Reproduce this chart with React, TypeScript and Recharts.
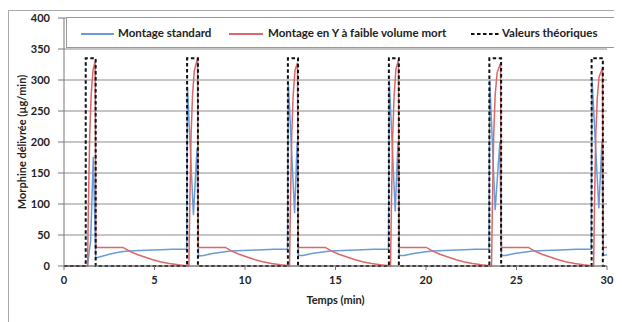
import { LineChart, Line, XAxis, YAxis, CartesianGrid, Legend } from "recharts";

// [time (min), morphine (µg/min)]
const standard: [number, number][] = [
  [0, 0], [1.3, 0], [1.4, 25], [1.47, 40], [1.62, 176], [1.75, 13], [2.0, 15], [2.5, 19], [3.0, 22], [3.5, 24], [4.2, 25], [5.0, 26], [6.0, 27], [6.78, 27],
  [6.82, 289], [7.15, 82], [7.35, 190], [7.43, 16], [7.7, 17], [8.2, 20], [8.7, 22], [9.2, 24], [9.9, 25], [10.7, 26], [11.6, 27], [12.35, 27],
  [12.39, 297], [12.74, 85], [12.88, 200], [12.95, 17], [13.2, 17], [13.7, 20], [14.2, 22], [14.7, 24], [15.4, 25], [16.2, 26], [17.1, 27], [17.93, 27],
  [17.97, 300], [18.3, 88], [18.45, 200], [18.52, 17], [18.8, 17], [19.3, 20], [19.8, 22], [20.3, 24], [21.0, 25], [21.8, 26], [22.7, 27], [23.48, 27],
  [23.52, 300], [23.82, 90], [24.08, 200], [24.17, 17], [24.4, 17], [24.9, 20], [25.4, 22], [25.9, 24], [26.6, 25], [27.4, 26], [28.3, 27], [29.13, 27],
  [29.17, 303], [29.55, 93], [29.72, 200], [29.8, 17], [30, 18],
];

const lowDeadVolume: [number, number][] = [
  [0, 0], [1.3, 0], [1.35, 100], [1.42, 210], [1.5, 275], [1.6, 315], [1.72, 330], [1.76, 30],
  [3.26, 30], [3.61, 24], [4.01, 19], [4.41, 15], [4.91, 10], [5.31, 7], [5.81, 4], [6.31, 2], [6.76, 0.5],
  [6.9, 0], [6.95, 100], [7.02, 210], [7.1, 275], [7.2, 315], [7.38, 335], [7.42, 30],
  [8.92, 30], [9.27, 24], [9.67, 19], [10.07, 15], [10.57, 10], [10.97, 7], [11.47, 4], [11.97, 2], [12.42, 0.5],
  [12.46, 0], [12.51, 100], [12.58, 210], [12.66, 275], [12.76, 315], [12.9, 328], [12.94, 30],
  [14.44, 30], [14.79, 24], [15.19, 19], [15.59, 15], [16.09, 10], [16.49, 7], [16.99, 4], [17.49, 2], [17.94, 0.5],
  [18.04, 0], [18.09, 100], [18.16, 210], [18.24, 275], [18.34, 318], [18.48, 332], [18.52, 30],
  [20.02, 30], [20.37, 24], [20.77, 19], [21.17, 15], [21.67, 10], [22.07, 7], [22.57, 4], [23.07, 2], [23.52, 0.5],
  [23.62, 0], [23.67, 100], [23.74, 210], [23.82, 275], [23.93, 312], [24.12, 327], [24.16, 30],
  [25.66, 30], [26.01, 24], [26.41, 19], [26.81, 15], [27.31, 10], [27.71, 7], [28.21, 4], [28.71, 2], [29.16, 0.5],
  [29.26, 0], [29.31, 100], [29.38, 210], [29.46, 270], [29.56, 305], [29.75, 319], [29.79, 30], [30, 30],
];

const theoretical: [number, number][] = [
  [0, 0], [1.2, 0], [1.2, 335], [1.75, 335], [1.75, 0],
  [6.8, 0], [6.8, 335], [7.4, 335], [7.4, 0],
  [12.37, 0], [12.37, 335], [12.93, 335], [12.93, 0],
  [17.95, 0], [17.95, 335], [18.5, 335], [18.5, 0],
  [23.5, 0], [23.5, 335], [24.15, 335], [24.15, 0],
  [29.15, 0], [29.15, 335], [29.77, 335], [29.77, 0], [30, 0],
];

const xTicks = [0, 5, 10, 15, 20, 25, 30];
const yTicks = [0, 50, 100, 150, 200, 250, 300, 350, 400];

const BLUE = "#6b9bd6";
const RED = "#d8686a";
const FONT = "Lato, 'Open Sans', sans-serif";

const toRows = (pts: [number, number][]) => pts.map(([t, v]) => ({ t, v }));

function LegendBox() {
  const text = { position: "absolute" as const, top: 8, fontSize: 11.5, fontWeight: 700, color: "#222", whiteSpace: "nowrap" as const, lineHeight: "14px" };
  const sample = (left: number, width: number, color: string) => (
    <div style={{ position: "absolute", left, top: 15, width, height: 2, background: color }} />
  );
  return (
    <div style={{ position: "relative", width: 554, height: 31, background: "#fff", border: "1px solid #999", boxSizing: "border-box", fontFamily: FONT }}>
      {sample(14, 33, BLUE)}
      <span style={{ ...text, left: 51 }}>Montage standard</span>
      {sample(162, 34, RED)}
      <span style={{ ...text, left: 201 }}>Montage en Y à faible volume mort</span>
      <svg style={{ position: "absolute", left: 404, top: 14 }} width={28} height={4}>
        <line x1={0} y1={2} x2={28} y2={2} stroke="#111" strokeWidth={2} strokeDasharray="3.5 2.5" />
      </svg>
      <span style={{ ...text, left: 435 }}>Valeurs théoriques</span>
    </div>
  );
}

export default function App() {
  return (
    <div style={{ width: 613, height: 311, marginTop: 2, borderTop: "1px solid #aaa", borderLeft: "1px solid #aaa", background: "#fff" }}>
      <LineChart width={613} height={311} margin={{ top: 7, right: 15, left: 0, bottom: 16 }}>
        <CartesianGrid vertical={false} stroke="#8c8c8c" />
        <XAxis
          type="number"
          dataKey="t"
          domain={[0, 30]}
          ticks={xTicks}
          height={40}
          stroke="#777"
          tickSize={4}
          tickMargin={6}
          tick={{ fill: "#222", fontSize: 11, fontWeight: 700, fontFamily: FONT }}
          label={{ value: "Temps (min)", position: "insideBottom", offset: 2, fill: "#222", fontSize: 11, fontWeight: 700, fontFamily: FONT }}
        />
        <YAxis
          type="number"
          domain={[0, 400]}
          ticks={yTicks}
          width={55}
          stroke="#777"
          tickSize={6}
          tickMargin={8}
          tick={{ fill: "#222", fontSize: 11, fontWeight: 700, fontFamily: FONT }}
          label={{
            value: "Morphine délivrée (µg/min)",
            angle: -90,
            position: "insideLeft",
            offset: 13,
            style: { textAnchor: "middle" },
            fill: "#222",
            fontSize: 11,
            fontWeight: 700,
            fontFamily: FONT,
          }}
        />
        <Legend
          layout="horizontal"
          verticalAlign="middle"
          align="center"
          wrapperStyle={{ top: 6, left: 57, width: 554, height: 31 }}
          content={() => <LegendBox />}
        />
        <Line data={toRows(standard)} dataKey="v" type="linear" stroke={BLUE} strokeWidth={1.5} dot={false} isAnimationActive={false} />
        <Line data={toRows(lowDeadVolume)} dataKey="v" type="linear" stroke={RED} strokeWidth={1.5} dot={false} isAnimationActive={false} />
        <Line data={toRows(theoretical)} dataKey="v" type="linear" stroke="#111" strokeWidth={2} strokeDasharray="3.5 2.5" dot={false} isAnimationActive={false} />
      </LineChart>
    </div>
  );
}
